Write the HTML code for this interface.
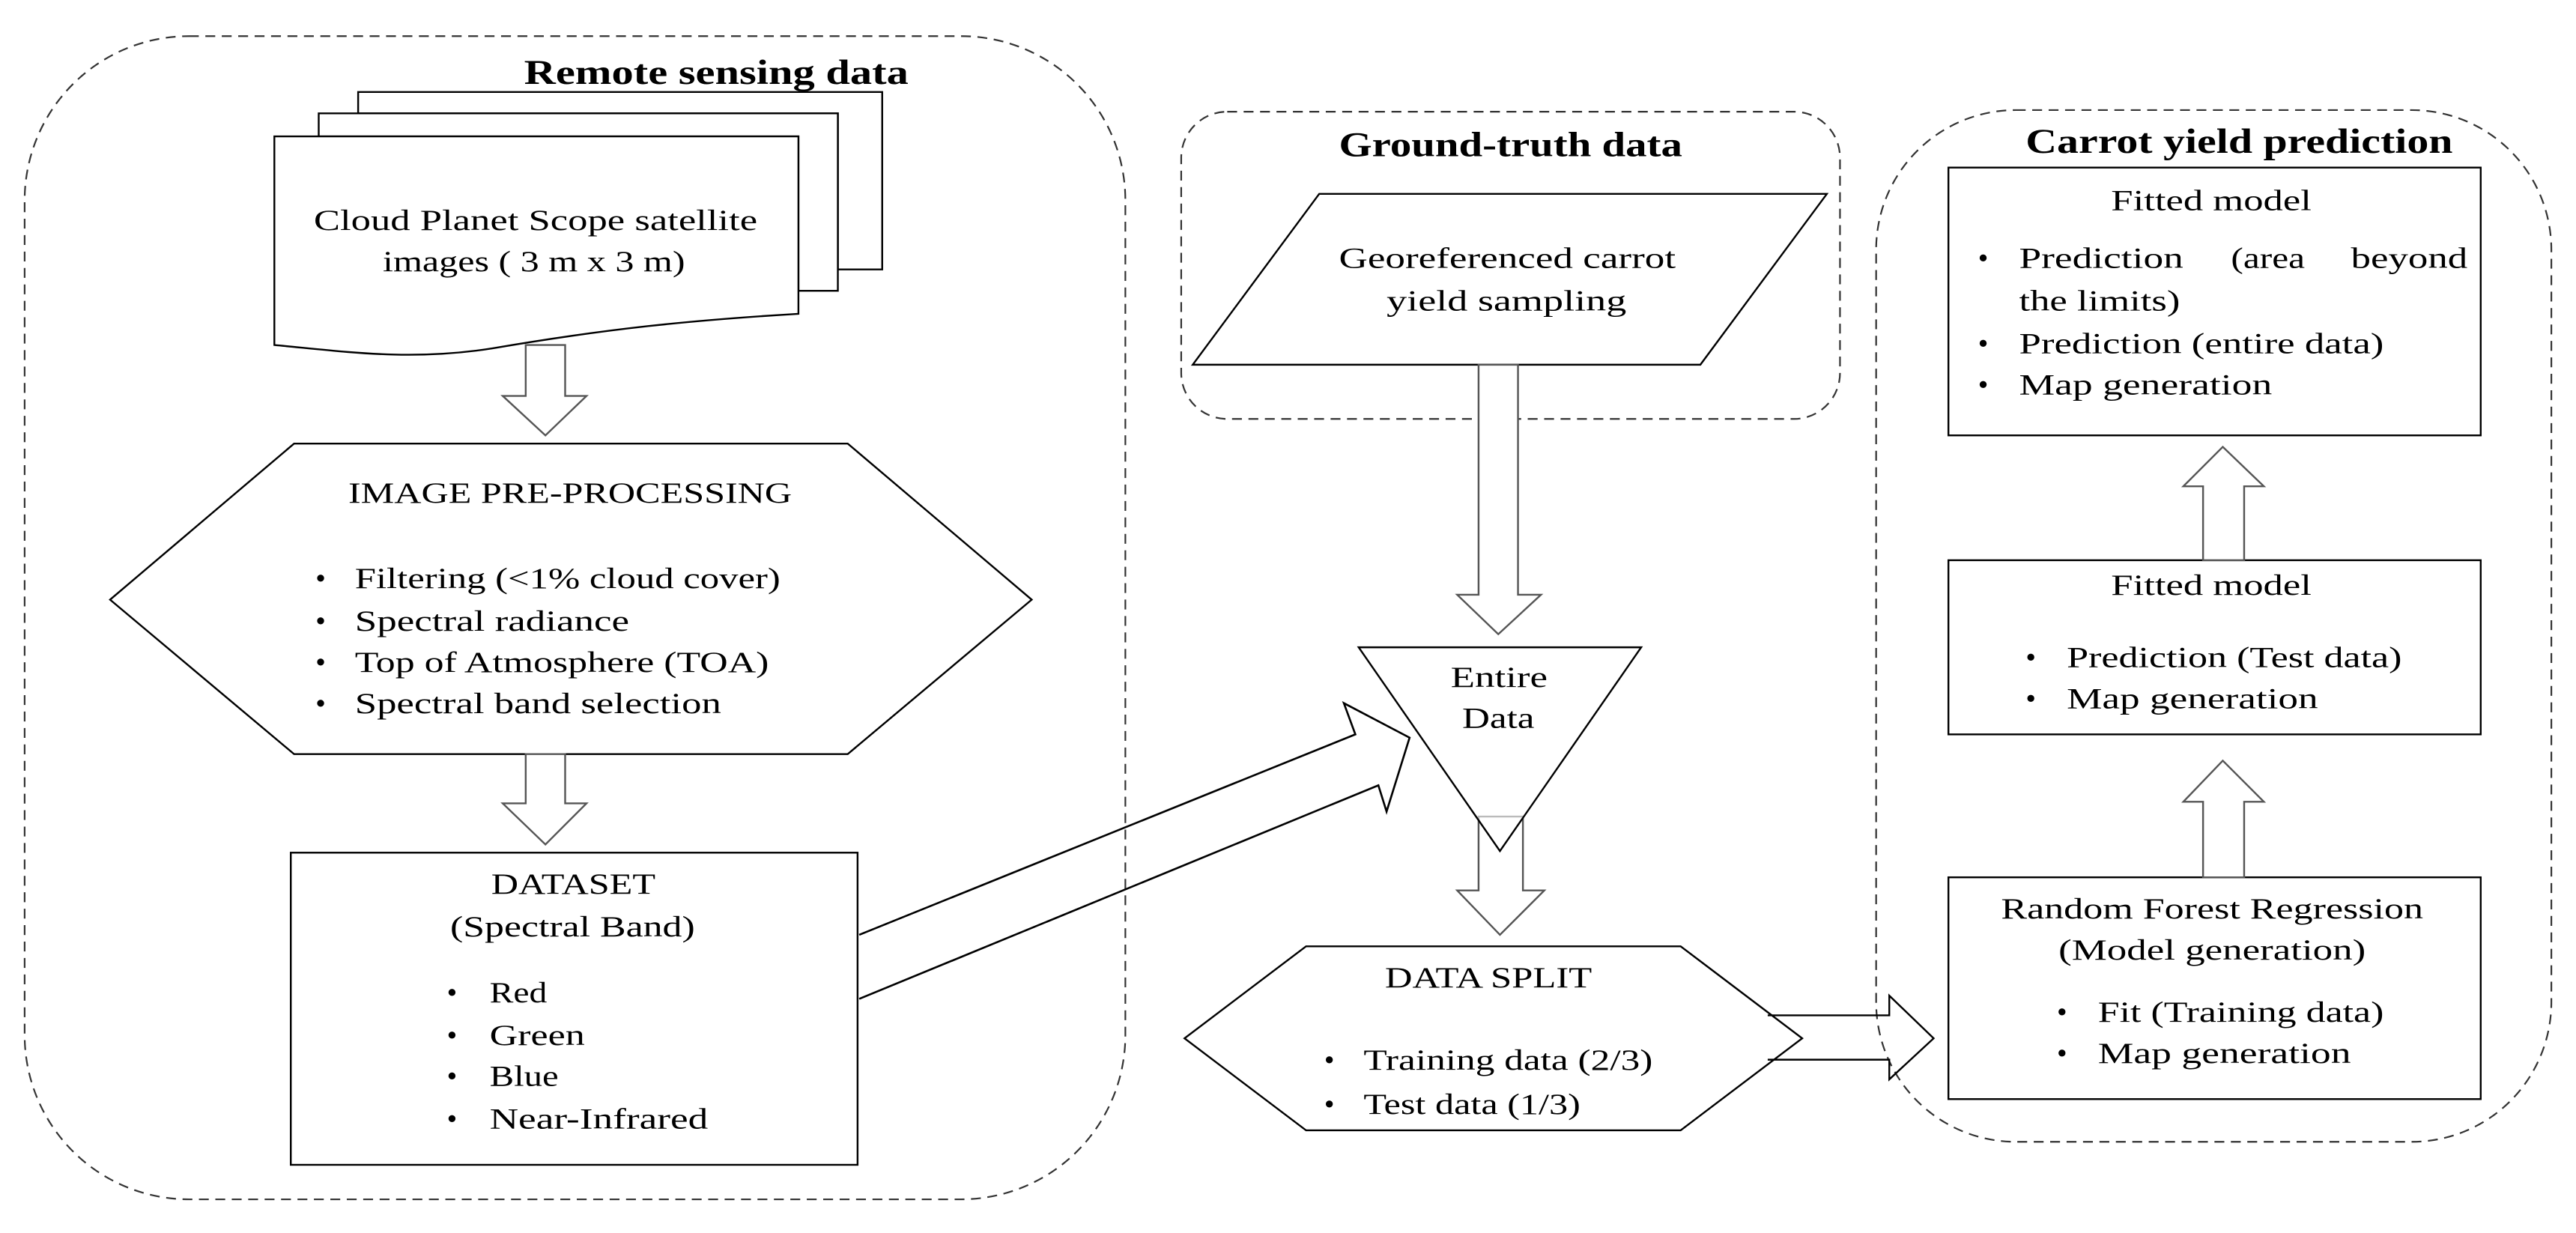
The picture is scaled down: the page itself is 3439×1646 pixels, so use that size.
<!DOCTYPE html>
<html><head><meta charset="utf-8"><style>
html,body{margin:0;padding:0;background:#fff;}
svg{display:block;}
text{font-family:"Liberation Serif",serif;font-size:18px;fill:#000;}
.t{font-weight:bold;font-size:21px;}
</style></head><body>
<svg width="3439" height="1646" viewBox="0 0 1568 750.5" preserveAspectRatio="none" xmlns="http://www.w3.org/2000/svg">
<g fill="none" stroke="#333" stroke-width="1" stroke-dasharray="6,4">
<rect x="15" y="22" width="670" height="708" rx="100" ry="100"/>
<rect x="719" y="68" width="401" height="187" rx="28" ry="28"/>
<rect x="1142" y="67" width="411" height="628" rx="85" ry="85"/>
</g>
<text class="t" x="319" y="51" textLength="234" lengthAdjust="spacingAndGlyphs">Remote sensing data</text>
<text class="t" x="815" y="95" textLength="209" lengthAdjust="spacingAndGlyphs">Ground-truth data</text>
<text class="t" x="1233" y="93" textLength="260" lengthAdjust="spacingAndGlyphs">Carrot yield prediction</text>

<g stroke="#000" stroke-width="1.1" fill="#fff">
<!-- stacked docs -->
<path d="M218,56 H537 V164 H510 V69 H218 Z"/>
<path d="M194,69 H510 V177 H486 V83 H194 Z"/>
<path d="M167,83 H486 V191 C420,195 370,200 300,212 C250,220 210,214 167,210 Z"/>
<!-- hexagon -->
<polygon points="179,270 516,270 628,365 516,459 179,459 67,365"/>
<!-- dataset box -->
<rect x="177" y="519" width="345" height="190"/>
<!-- parallelogram -->
<polygon points="803,118 1112,118 1035,222 726,222"/>
<!-- DATA SPLIT hexagon -->
<polygon points="795,576 1023,576 1097,632 1023,688 795,688 721,632"/>
<!-- right boxes -->
<rect x="1186" y="102" width="324" height="163"/>
<rect x="1186" y="341" width="324" height="106"/>
<rect x="1186" y="534" width="324" height="135"/>
</g>

<!-- vertical block arrows -->
<g stroke="#555" stroke-width="1.1" fill="#fff">
<polygon points="320,210 344,210 344,241 357,241 332,265 306,241 320,241"/>
<polygon points="320,459 344,459 344,489 357,489 332,514 306,489 320,489"/>
<polygon points="900,222 924,222 924,362 938,362 912,386 887,362 900,362"/>
<polygon points="900,497 927,497 927,542 940,542 913,569 887,542 900,542"/>
<polygon points="1341,341 1366,341 1366,296 1378,296 1353,272 1329,296 1341,296"/>
<polygon points="1341,534 1366,534 1366,488 1378,488 1353,463 1329,488 1341,488"/>
</g>
<!-- triangle -->
<polygon points="827,394 999,394 913,518" fill="#fff" fill-opacity="0.6" stroke="#000" stroke-width="1.1"/>
<!-- diagonal arrow -->
<polyline points="523,569 825,447 818,428 858,449 844,494 839,478 523,608" fill="none" stroke="#000" stroke-width="1.2"/>
<!-- data split arrow -->
<polyline points="1076,618 1150,618 1150,606 1177,632 1150,657 1150,645 1076,645" fill="none" stroke="#000" stroke-width="1.1"/>

<!-- texts -->
<text x="191" y="140" textLength="270" lengthAdjust="spacingAndGlyphs">Cloud Planet Scope satellite</text>
<text x="233" y="165" textLength="184" lengthAdjust="spacingAndGlyphs">images ( 3 m x 3 m)</text>

<text x="212" y="306" textLength="270" lengthAdjust="spacingAndGlyphs">IMAGE PRE-PROCESSING</text>
<g>
<text x="192" y="358">•</text><text x="216" y="358" textLength="259" lengthAdjust="spacingAndGlyphs">Filtering (&lt;1% cloud cover)</text>
<text x="192" y="384">•</text><text x="216" y="384" textLength="167" lengthAdjust="spacingAndGlyphs">Spectral radiance</text>
<text x="192" y="409">•</text><text x="216" y="409" textLength="252" lengthAdjust="spacingAndGlyphs">Top of Atmosphere (TOA)</text>
<text x="192" y="434">•</text><text x="216" y="434" textLength="223" lengthAdjust="spacingAndGlyphs">Spectral band selection</text>
</g>

<text x="299" y="544" textLength="100" lengthAdjust="spacingAndGlyphs">DATASET</text>
<text x="274" y="570" textLength="149" lengthAdjust="spacingAndGlyphs">(Spectral Band)</text>
<text x="272" y="610">•</text><text x="298" y="610" textLength="35" lengthAdjust="spacingAndGlyphs">Red</text>
<text x="272" y="636">•</text><text x="298" y="636" textLength="58" lengthAdjust="spacingAndGlyphs">Green</text>
<text x="272" y="661">•</text><text x="298" y="661" textLength="42" lengthAdjust="spacingAndGlyphs">Blue</text>
<text x="272" y="687">•</text><text x="298" y="687" textLength="133" lengthAdjust="spacingAndGlyphs">Near-Infrared</text>

<text x="815" y="163" textLength="205" lengthAdjust="spacingAndGlyphs">Georeferenced carrot</text>
<text x="844" y="189" textLength="146" lengthAdjust="spacingAndGlyphs">yield sampling</text>

<text x="883" y="418" textLength="59" lengthAdjust="spacingAndGlyphs">Entire</text>
<text x="890" y="443" textLength="44" lengthAdjust="spacingAndGlyphs">Data</text>

<text x="843" y="601" textLength="126" lengthAdjust="spacingAndGlyphs">DATA SPLIT</text>
<text x="806" y="651">•</text><text x="830" y="651" textLength="176" lengthAdjust="spacingAndGlyphs">Training data (2/3)</text>
<text x="806" y="678">•</text><text x="830" y="678" textLength="132" lengthAdjust="spacingAndGlyphs">Test data (1/3)</text>

<text x="1285" y="128" textLength="122" lengthAdjust="spacingAndGlyphs">Fitted model</text>
<text x="1204" y="163">•</text>
<text x="1229" y="163" textLength="100" lengthAdjust="spacingAndGlyphs">Prediction</text>
<text x="1358" y="163" textLength="45" lengthAdjust="spacingAndGlyphs">(area</text>
<text x="1431" y="163" textLength="71" lengthAdjust="spacingAndGlyphs">beyond</text>
<text x="1229" y="189" textLength="98" lengthAdjust="spacingAndGlyphs">the limits)</text>
<text x="1204" y="215">•</text><text x="1229" y="215" textLength="222" lengthAdjust="spacingAndGlyphs">Prediction (entire data)</text>
<text x="1204" y="240">•</text><text x="1229" y="240" textLength="154" lengthAdjust="spacingAndGlyphs">Map generation</text>

<text x="1285" y="362" textLength="122" lengthAdjust="spacingAndGlyphs">Fitted model</text>
<text x="1233" y="406">•</text><text x="1258" y="406" textLength="204" lengthAdjust="spacingAndGlyphs">Prediction (Test data)</text>
<text x="1233" y="431">•</text><text x="1258" y="431" textLength="153" lengthAdjust="spacingAndGlyphs">Map generation</text>

<text x="1218" y="559" textLength="257" lengthAdjust="spacingAndGlyphs">Random Forest Regression</text>
<text x="1253" y="584" textLength="187" lengthAdjust="spacingAndGlyphs">(Model generation)</text>
<text x="1252" y="622">•</text><text x="1277" y="622" textLength="174" lengthAdjust="spacingAndGlyphs">Fit (Training data)</text>
<text x="1252" y="647">•</text><text x="1277" y="647" textLength="154" lengthAdjust="spacingAndGlyphs">Map generation</text>
</svg>
</body></html>
